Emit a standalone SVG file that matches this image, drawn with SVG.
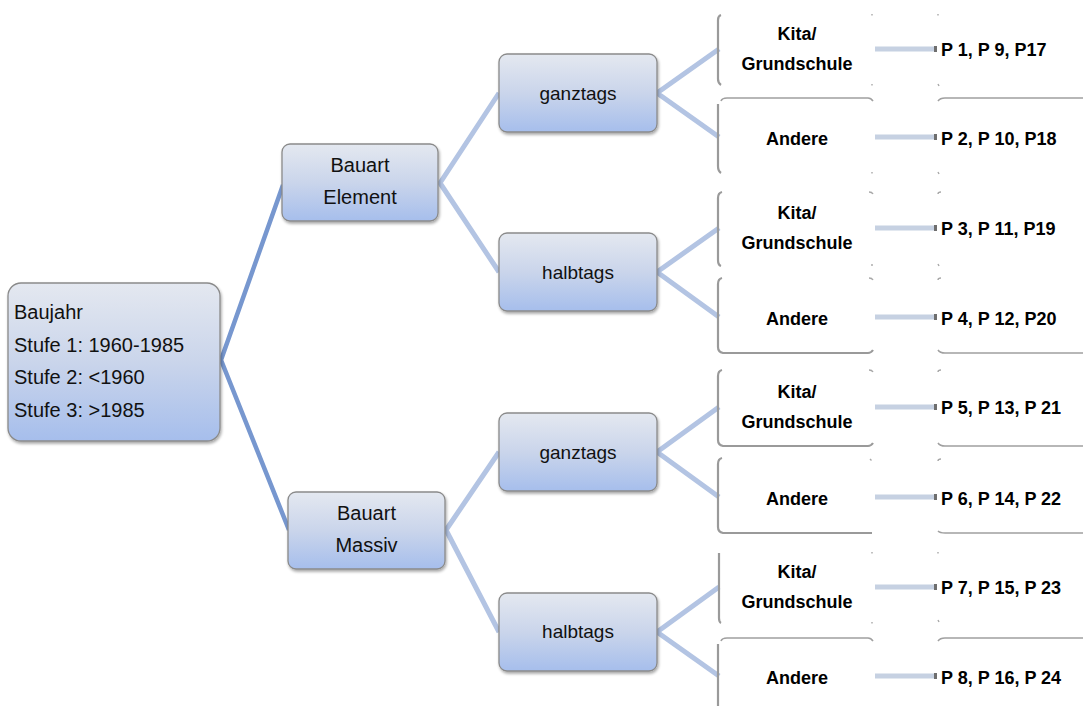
<svg xmlns="http://www.w3.org/2000/svg" width="1083" height="706" viewBox="0 0 1083 706">
<defs>
<linearGradient id="bg" x1="0" y1="0" x2="0" y2="1">
<stop offset="0" stop-color="#e4e8f0"/>
<stop offset="0.5" stop-color="#cad5eb"/>
<stop offset="1" stop-color="#a6beec"/>
</linearGradient>
<filter id="sh" x="-10%" y="-10%" width="130%" height="130%">
<feGaussianBlur in="SourceAlpha" stdDeviation="1.5"/>
<feOffset dx="1" dy="1.5" result="b"/>
<feComponentTransfer><feFuncA type="linear" slope="0.35"/></feComponentTransfer>
<feMerge><feMergeNode/><feMergeNode in="SourceGraphic"/></feMerge>
</filter>
</defs>
<style>
.box{fill:url(#bg);stroke:#8a8a8a;stroke-width:1.3;filter:url(#sh)}
.t20{font-family:"Liberation Sans",Arial,sans-serif;font-size:20px;fill:#111}
.t19{font-family:"Liberation Sans",Arial,sans-serif;font-size:19px;fill:#111;text-anchor:middle}
.c{text-anchor:middle}
.t18{font-family:"Liberation Sans",Arial,sans-serif;font-size:18px;font-weight:bold;fill:#000}
.w{fill:#fff;stroke:none}
.lb{fill:none;stroke:#9a9a9a;stroke-width:2.2}
.hb{fill:none;stroke:#a0a0a0;stroke-width:1.6}
.dot{fill:none;stroke:#a8a8a8;stroke-width:1.4}
.c1{fill:none;stroke:#7797cf;stroke-width:4.5;stroke-linejoin:round}
.c2{fill:none;stroke:#b3c4e3;stroke-width:5;stroke-linejoin:round}
.c3{fill:none;stroke:#c6d1e2;stroke-width:5}
.cap{fill:#6e6e6e}
</style>
<g id="connectors">
<path class="c1" d="M283,185 L221,360 L289,530"/>
<path class="c2" d="M499,93 L440,183 L499,272"/>
<path class="c2" d="M499,452 L446,530 L499,632"/>
<path class="c2" d="M719,49 L657,93 L719,137"/>
<path class="c2" d="M719,228 L657,272 L719,317"/>
<path class="c2" d="M719,407 L657,452 L719,497"/>
<path class="c2" d="M719,587 L657,632 L719,676"/>
<path class="c3" d="M875,49 H935 M875,137 H935 M875,228 H935 M875,317 H935 M875,407 H935 M875,497 H935 M875,587 H935 M875,676 H935"/>
<path class="cap" d="M934,46 h3 v6 h-3z M934,134 h3 v6 h-3z M934,225 h3 v6 h-3z M934,314 h3 v6 h-3z M934,404 h3 v6 h-3z M934,494 h3 v6 h-3z M934,584 h3 v6 h-3z M934,673 h3 v6 h-3z"/>
</g>
<g id="root">
<rect class="box" x="8" y="283" width="212" height="158" rx="13"/>
<text class="t20" x="14" y="319">Baujahr</text>
<text class="t20" x="14" y="352">Stufe 1: 1960-1985</text>
<text class="t20" x="14" y="384">Stufe 2: &lt;1960</text>
<text class="t20" x="14" y="417">Stufe 3: &gt;1985</text>
</g>
<g id="element">
<rect class="box" x="282" y="144" width="156" height="77" rx="8"/>
<text class="t20 c" x="360" y="172">Bauart</text>
<text class="t20 c" x="360" y="204">Element</text>
</g>
<g id="massiv">
<rect class="box" x="288" y="492" width="157" height="77" rx="8"/>
<text class="t20 c" x="366.5" y="520">Bauart</text>
<text class="t20 c" x="366.5" y="552">Massiv</text>
</g>
<g id="ganztags1">
<rect class="box" x="499" y="54" width="158" height="78" rx="8"/>
<text class="t19" x="578" y="100">ganztags</text>
</g>
<g id="halbtags1">
<rect class="box" x="499" y="233" width="158" height="78" rx="8"/>
<text class="t19" x="578" y="279">halbtags</text>
</g>
<g id="ganztags2">
<rect class="box" x="499" y="413" width="158" height="78" rx="8"/>
<text class="t19" x="578" y="459">ganztags</text>
</g>
<g id="halbtags2">
<rect class="box" x="499" y="593" width="158" height="78" rx="8"/>
<text class="t19" x="578" y="638">halbtags</text>
</g>
<g id="kita1">
<path class="lb" d="M721,15 Q718,16 718,20 V79 Q718,83 721,85"/>
<path class="dot" d="M872,14 v1.5 M872,84 v1.5 M938,14 v1.5 M938,84 l1,2"/>
<text class="t18 c" x="797" y="40">Kita/</text>
<text class="t18 c" x="797" y="70">Grundschule</text>
<text class="t18" x="941" y="56">P 1, P 9, P17</text>
</g>
<g id="andere1">
<path class="hb" d="M721,101 Q722,98 727,98 H868 Q871,98 873,101"/>
<path class="hb" d="M938,101 Q940,98 945,98 H1083"/>
<path class="lb" d="M718,104 V166 Q718,171 721,173"/>
<path class="dot" d="M872,172 v1.5 M938,172 l1,2"/>
<text class="t18 c" x="797" y="145">Andere</text>
<text class="t18" x="941" y="145">P 2, P 10, P18</text>
</g>
<g id="kita2">
<path class="lb" d="M722,192 Q718,193 718,198 V260 Q718,265 721,266"/>
<path class="dot" d="M869,192 q3,0 4,2 M941,192 q-3,0 -3,2 M872,264 v2 M938,264 l1,2"/>
<text class="t18 c" x="797" y="219">Kita/</text>
<text class="t18 c" x="797" y="249">Grundschule</text>
<text class="t18" x="941" y="235">P 3, P 11, P19</text>
</g>
<g id="andere2">
<path class="lb" d="M722,278 Q718,279 718,284 V347 Q718,352 723,353 H868 Q871,353 873,350"/>
<path class="hb" d="M938,350 Q940,353 945,353 H1083"/>
<path class="dot" d="M869,278 q3,0 4,2 M941,278 q-3,0 -3,2"/>
<text class="t18 c" x="797" y="325">Andere</text>
<text class="t18" x="941" y="325">P 4, P 12, P20</text>
</g>
<g id="kita3">
<path class="lb" d="M722,370 Q718,371 718,376 V440 Q718,445 723,446 H868 Q871,446 873,443"/>
<path class="hb" d="M938,443 Q940,446 945,446 H1083"/>
<path class="dot" d="M869,370 q3,0 4,2 M941,370 q-3,0 -3,2"/>
<text class="t18 c" x="797" y="398">Kita/</text>
<text class="t18 c" x="797" y="428">Grundschule</text>
<text class="t18" x="941" y="414">P 5, P 13, P 21</text>
</g>
<g id="andere3">
<path class="lb" d="M722,458 Q718,459 718,464 V527 Q718,532 723,533 H872"/>
<path class="hb" d="M938,531 Q940,533 945,533 H1083"/>
<path class="dot" d="M870,459 l1.5,1.5 M941,459 q-3,0 -3,2"/>
<text class="t18 c" x="797" y="505">Andere</text>
<text class="t18" x="941" y="505">P 6, P 14, P 22</text>
</g>
<g id="kita4">
<path class="lb" d="M719,553 V618 Q719,622 721,623"/>
<path class="dot" d="M872,552 v1.5 M872,622 v1.5 M938,552 v1.5 M938,620 l1,2"/>
<text class="t18 c" x="797" y="578">Kita/</text>
<text class="t18 c" x="797" y="608">Grundschule</text>
<text class="t18" x="941" y="594">P 7, P 15, P 23</text>
</g>
<g id="andere4">
<path class="hb" d="M721,641 Q722,638 727,638 H868 Q871,638 873,641"/>
<path class="hb" d="M938,641 Q940,638 945,638 H1083"/>
<path class="lb" d="M718,644 V706"/>
<text class="t18 c" x="797" y="684">Andere</text>
<text class="t18" x="941" y="684">P 8, P 16, P 24</text>
</g>
</svg>
